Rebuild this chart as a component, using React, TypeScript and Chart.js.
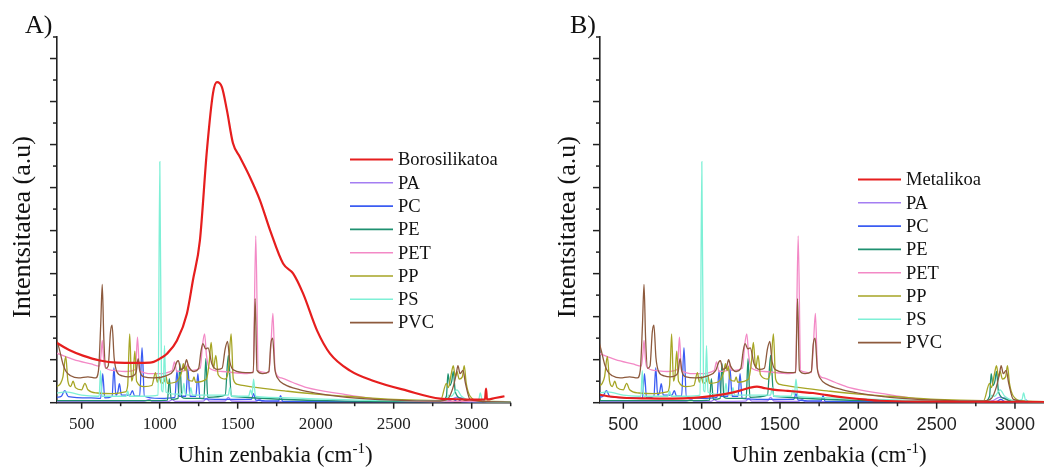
import React, { useEffect, useRef } from "react";
import { Chart, registerables } from "chart.js";

Chart.register(...registerables);

type Pt = [number, number];

// ---------- DATA (wavenumber cm^-1, intensity a.u.) ----------
const X_MIN_A = 342;
const X_MAX_A = 3250;
const X_MIN_B = 351;
const X_MAX_B = 3200;
const Y_MAX = 17;
const X_TICK_LABELS = [500, 1000, 1500, 2000, 2500, 3000];

const BORO: Pt[] = [
  [342, 2.78], [348, 2.75], [420, 2.45], [508, 2.19], [617, 1.96], [726, 1.86], [850, 1.85],
  [938, 1.86], [1002, 2.05], [1047, 2.28], [1111, 2.89], [1175, 4.15], [1213, 5.68],
  [1258, 7.55], [1303, 11.74], [1342, 14.39], [1367, 14.9], [1399, 14.67], [1431, 13.6],
  [1470, 12.06], [1515, 11.41], [1579, 10.48], [1643, 9.41], [1708, 8.01], [1791, 6.47],
  [1855, 6.01], [1919, 5.08], [2009, 3.35], [2092, 2.28], [2220, 1.49], [2367, 1.02],
  [2585, 0.56], [2797, 0.19], [2900, 0.16], [3000, 0.14], [3085, 0.15], [3092, 0.65],
  [3098, 0.15], [3150, 0.22], [3210, 0.3],
];

const METAL: Pt[] = [
  [351, 0.37], [400, 0.3], [500, 0.23], [650, 0.2], [815, 0.19], [950, 0.22], [1034, 0.28],
  [1162, 0.42], [1245, 0.56], [1309, 0.7], [1353, 0.75], [1400, 0.68], [1456, 0.61],
  [1550, 0.55], [1628, 0.5], [1711, 0.45], [1800, 0.35], [1928, 0.23], [2050, 0.14],
  [2139, 0.09], [2400, 0.05], [2800, 0.04], [3200, 0.03],
];

const PA: Pt[] = [
  [342, 0.05], [900, 0.06], [935, 0.15], [950, 0.06], [1060, 0.06], [1080, 0.14], [1100, 0.06],
  [1280, 0.07], [1300, 0.2], [1320, 0.07], [1420, 0.08], [1440, 0.25], [1460, 0.08],
  [1620, 0.06], [1640, 0.15], [1660, 0.05], [2800, 0.05], [2860, 0.1], [2900, 0.25],
  [2935, 0.22], [2970, 0.06], [3050, 0.04], [3250, 0.03],
];

const PC: Pt[] = [
  [342, 0.25], [370, 0.3], [392, 0.56], [415, 0.28], [560, 0.22], [622, 0.2], [635, 1.35],
  [648, 0.22], [695, 0.3], [707, 1.63], [719, 0.35], [732, 0.5], [742, 0.88], [755, 0.35],
  [810, 0.35], [825, 0.56], [840, 0.3], [872, 0.3], [887, 2.56], [902, 0.3], [1000, 0.2],
  [1098, 0.25], [1111, 1.49], [1124, 0.3], [1168, 0.3], [1181, 1.58], [1194, 0.3],
  [1232, 0.3], [1245, 1.35], [1258, 0.2], [1400, 0.15], [1588, 0.15], [1602, 0.42],
  [1616, 0.12], [1762, 0.08], [1775, 0.33], [1788, 0.06], [2880, 0.05], [2910, 0.15],
  [2940, 0.04], [3060, 0.03], [3072, 0.12], [3085, 0.03], [3250, 0.03],
];

const PE: Pt[] = [
  [342, 0.1], [1000, 0.1], [1050, 0.12], [1062, 1.12], [1074, 0.15], [1118, 0.2], [1130, 1.82],
  [1142, 0.25], [1170, 0.2], [1284, 0.2], [1296, 2.05], [1308, 0.25], [1420, 0.35],
  [1440, 2.2], [1460, 0.3], [2800, 0.05], [2838, 0.3], [2848, 1.35], [2860, 0.8],
  [2872, 1.0], [2882, 1.45], [2895, 0.5], [2930, 0.2], [3000, 0.05], [3250, 0.03],
];

const PET: Pt[] = [
  [342, 2.3], [450, 2.0], [560, 1.8], [615, 1.7], [625, 2.3], [632, 2.9], [640, 2.1],
  [650, 1.65], [700, 1.5], [780, 1.45], [845, 1.55], [858, 3.05], [871, 1.5], [950, 1.35],
  [990, 1.35], [1080, 1.5], [1095, 1.9], [1110, 1.45], [1170, 1.5], [1180, 1.8],
  [1190, 1.5], [1260, 1.6], [1275, 2.7], [1288, 3.2], [1300, 2.2], [1320, 1.6],
  [1400, 1.45], [1560, 1.35], [1600, 1.45], [1616, 7.75], [1632, 1.5], [1700, 1.4],
  [1712, 2.5], [1726, 4.15], [1740, 1.5], [1780, 1.15], [1850, 0.95], [1944, 0.7],
  [2156, 0.42], [2367, 0.19], [2585, 0.09], [3000, 0.05], [3250, 0.05],
];

const PP: Pt[] = [
  [342, 0.75], [365, 0.9], [380, 1.2], [398, 2.15], [412, 1.0], [430, 0.75], [445, 1.0],
  [460, 0.7], [500, 0.6], [521, 0.9], [540, 0.6], [600, 0.45], [700, 0.42], [780, 0.5],
  [795, 0.8], [808, 3.2], [820, 1.0], [830, 1.3], [841, 2.4], [852, 1.0], [900, 0.75],
  [950, 0.8], [973, 1.4], [985, 0.95], [998, 1.2], [1010, 0.9], [1030, 1.0], [1040, 1.25],
  [1050, 0.9], [1100, 0.95], [1140, 1.4], [1152, 1.82], [1162, 1.5], [1170, 1.7],
  [1180, 1.1], [1210, 1.0], [1220, 1.2], [1230, 0.95], [1300, 1.1], [1318, 1.9],
  [1330, 2.8], [1345, 1.6], [1360, 2.2], [1375, 1.3], [1420, 1.1], [1440, 1.5],
  [1458, 3.2], [1472, 1.1], [1500, 0.85], [1600, 0.72], [1800, 0.55], [2000, 0.4],
  [2200, 0.3], [2500, 0.15], [2800, 0.1], [2838, 0.9], [2850, 0.7], [2868, 1.3],
  [2882, 1.72], [2895, 1.2], [2905, 1.45], [2920, 1.1], [2940, 1.2], [2952, 1.72],
  [2965, 0.9], [2990, 0.3], [3050, 0.08], [3250, 0.05],
];

const PS: Pt[] = [
  [342, 0.45], [400, 0.5], [500, 0.35], [600, 0.3], [612, 0.3], [621, 1.49], [630, 0.3],
  [700, 0.3], [785, 0.3], [795, 0.55], [805, 0.3], [900, 0.3], [990, 0.35], [1001, 11.2],
  [1012, 0.6], [1022, 0.5], [1031, 2.65], [1040, 0.5], [1100, 0.4], [1145, 0.4],
  [1155, 0.9], [1165, 0.4], [1190, 0.35], [1200, 0.7], [1210, 0.35], [1300, 0.35],
  [1440, 0.35], [1450, 0.7], [1460, 0.3], [1570, 0.3], [1583, 0.6], [1592, 0.35],
  [1602, 1.1], [1614, 0.3], [1700, 0.25], [2000, 0.18], [2500, 0.1], [2840, 0.1],
  [2852, 0.35], [2870, 0.3], [2905, 0.6], [2935, 0.3], [3000, 0.1], [3045, 0.15],
  [3055, 0.45], [3068, 0.1], [3100, 0.05], [3250, 0.04],
];

const PVC: Pt[] = [
  [342, 2.9], [360, 2.4], [380, 1.8], [400, 1.45], [430, 1.25], [480, 1.15], [540, 1.2],
  [590, 1.15], [608, 1.5], [622, 3.6], [632, 5.5], [642, 3.0], [655, 1.6], [670, 1.7],
  [685, 3.3], [695, 3.6], [708, 2.1], [725, 1.45], [760, 1.25], [800, 1.2], [840, 1.3],
  [850, 1.45], [862, 2.05], [874, 1.45], [900, 1.2], [960, 1.15], [1040, 1.25], [1090, 1.5],
  [1110, 1.9], [1120, 1.95], [1135, 1.55], [1160, 1.7], [1172, 2.0], [1185, 1.7],
  [1220, 1.45], [1250, 1.6], [1265, 2.4], [1277, 2.75], [1295, 2.5], [1310, 2.55],
  [1335, 1.8], [1370, 1.55], [1400, 1.6], [1420, 2.5], [1435, 2.85], [1450, 1.9],
  [1480, 1.5], [1550, 1.4], [1600, 1.4], [1612, 4.84], [1624, 1.5], [1660, 1.35],
  [1700, 1.45], [1712, 2.7], [1724, 3.0], [1738, 1.6], [1760, 1.1], [1800, 0.85],
  [1900, 0.6], [2000, 0.45], [2200, 0.25], [2500, 0.12], [2800, 0.08], [2850, 0.2],
  [2880, 0.7], [2900, 1.3], [2912, 1.72], [2925, 1.35], [2944, 1.5], [2960, 0.9],
  [2990, 0.15], [3100, 0.05], [3250, 0.03],
];

const POLYMER_NAMES = ["PA", "PC", "PE", "PET", "PP", "PS", "PVC"];
const POLYMER_DATA: Pt[][] = [PA, PC, PE, PET, PP, PS, PVC];

// ---------- STYLE ----------
const RED = "#e61e1e";
const POLYMER_COLORS = ["#a47ef2", "#3b5cf2", "#1e9070", "#f389c6", "#a6a524", "#7ef0d6", "#8d5a3d"];
const SERIF = '"Liberation Serif", "Times New Roman", serif';
const SANS = '"Liberation Sans", Arial, sans-serif';
const AXIS_COLOR = "#222";
const PLOT_TOP = 37;
const PLOT_BOTTOM = 402;
const TICK_PAD = 11.3;

type PanelCfg = {
  label: string;
  redName: string;
  red: Pt[];
  xMin: number;
  xMax: number;
  left: number;
  width: number;
  padLeft: number;
  padRight: number;
  tickFont: string;
  tickSize: number;
  legendX: number;
  legendY: number;
  panelLabelX: number;
  xTitleCx: number;
  yTitleBx: number;
};

const PANELS: PanelCfg[] = [
  {
    label: "A)", redName: "Borosilikatoa", red: BORO, xMin: X_MIN_A, xMax: X_MAX_A,
    left: 0, width: 530, padLeft: 57, padRight: 19.3, tickFont: SERIF, tickSize: 17,
    legendX: 350, legendY: 159.5, panelLabelX: 25, xTitleCx: 275, yTitleBx: 30,
  },
  {
    label: "B)", redName: "Metalikoa", red: METAL, xMin: X_MIN_B, xMax: X_MAX_B,
    left: 540, width: 510, padLeft: 60, padRight: 3.7, tickFont: SANS, tickSize: 18,
    legendX: 318, legendY: 179.5, panelLabelX: 30, xTitleCx: 289, yTitleBx: 35,
  },
];

const decorPlugin = {
  id: "decor",
  afterDraw(chart: any) {
    const cfg: PanelCfg = chart.options.plugins.decor.cfg;
    const names: string[] = chart.options.plugins.decor.names;
    const colors: string[] = chart.options.plugins.decor.colors;
    const ctx: CanvasRenderingContext2D = chart.ctx;
    const xs = chart.scales.x;
    const ys = chart.scales.y;
    const area = chart.chartArea;
    ctx.save();
    ctx.strokeStyle = AXIS_COLOR;
    ctx.lineWidth = 1.5;
    for (let v = Math.ceil(xs.min / 250) * 250; v <= xs.max + 0.5; v += 250) {
      const px = xs.getPixelForValue(v);
      const len = v % 500 === 0 ? 6 : 3.5;
      ctx.beginPath();
      ctx.moveTo(px, area.bottom);
      ctx.lineTo(px, area.bottom + len);
      ctx.stroke();
    }
    for (let v = 0; v <= Y_MAX; v++) {
      const py = ys.getPixelForValue(v);
      const len = v % 2 === 0 ? 7 : 4;
      ctx.beginPath();
      ctx.moveTo(area.left, py);
      ctx.lineTo(area.left - len, py);
      ctx.stroke();
    }
    ctx.font = `18.5px ${SERIF}`;
    ctx.textBaseline = "middle";
    ctx.textAlign = "left";
    names.forEach((n, i) => {
      const y = cfg.legendY + i * 23.3;
      ctx.strokeStyle = colors[i];
      ctx.lineWidth = i === 0 ? 2 : 1.6;
      ctx.beginPath();
      ctx.moveTo(cfg.legendX, y);
      ctx.lineTo(cfg.legendX + 43, y);
      ctx.stroke();
      ctx.fillStyle = "#111";
      ctx.fillText(n, cfg.legendX + 48, y + 1);
    });
    ctx.fillStyle = "#111";
    ctx.textBaseline = "alphabetic";
    ctx.font = `26px ${SERIF}`;
    ctx.fillText(cfg.label, cfg.panelLabelX, 33);
    const main = "Uhin zenbakia (cm";
    const sup = "-1";
    const end = ")";
    ctx.font = `23px ${SERIF}`;
    const w1 = ctx.measureText(main).width;
    const w3 = ctx.measureText(end).width;
    ctx.font = `15px ${SERIF}`;
    const w2 = ctx.measureText(sup).width;
    const x0 = cfg.xTitleCx - (w1 + w2 + w3) / 2;
    const by = 462;
    ctx.font = `23px ${SERIF}`;
    ctx.fillText(main, x0, by);
    ctx.font = `15px ${SERIF}`;
    ctx.fillText(sup, x0 + w1, by - 9);
    ctx.font = `23px ${SERIF}`;
    ctx.fillText(end, x0 + w1 + w2, by);
    ctx.save();
    ctx.translate(cfg.yTitleBx, 227);
    ctx.rotate(-Math.PI / 2);
    ctx.textAlign = "center";
    ctx.font = `26px ${SERIF}`;
    ctx.fillText("Intentsitatea (a.u)", 0, 0);
    ctx.restore();
    ctx.restore();
  },
};

function Panel({ cfg }: { cfg: PanelCfg }) {
  const ref = useRef<HTMLCanvasElement | null>(null);
  useEffect(() => {
    if (!ref.current) return;
    const names = [cfg.redName, ...POLYMER_NAMES];
    const colors = [RED, ...POLYMER_COLORS];
    const series = [cfg.red, ...POLYMER_DATA];
    const n = series.length;
    const datasets = series.map((s, i) => ({
      label: names[i],
      data: s.map(([x, y]) => ({ x, y })),
      borderColor: colors[i],
      backgroundColor: colors[i],
      borderWidth: i === 0 ? 2.2 : 1.3,
      pointRadius: 0,
      fill: false,
      cubicInterpolationMode: "monotone" as const,
      order: i === 0 ? 0 : n - i,
    }));
    const chart = new Chart(ref.current, {
      type: "line",
      data: { datasets },
      plugins: [decorPlugin],
      options: {
        animation: false,
        responsive: false,
        events: [],
        layout: {
          padding: {
            left: cfg.padLeft,
            right: cfg.padRight,
            top: PLOT_TOP,
            bottom: 471 - PLOT_BOTTOM - cfg.tickSize * 1.2 - TICK_PAD - 12,
          },
        },
        plugins: {
          legend: { display: false },
          tooltip: { enabled: false },
          decor: { cfg, names, colors },
        } as any,
        scales: {
          x: {
            type: "linear",
            min: cfg.xMin,
            max: cfg.xMax,
            afterBuildTicks: (scale: any) => {
              scale.ticks = X_TICK_LABELS.map((v) => ({ value: v }));
            },
            ticks: {
              font: { family: cfg.tickFont, size: cfg.tickSize },
              color: "#222",
              padding: TICK_PAD,
              maxRotation: 0,
              autoSkip: false,
              callback: (v: any) => String(v),
            },
            grid: { display: false, drawTicks: false },
            border: { display: true, color: AXIS_COLOR, width: 1.6 },
          },
          y: {
            type: "linear",
            min: 0,
            max: Y_MAX,
            ticks: { display: false },
            grid: { display: false, drawTicks: false },
            border: { display: true, color: AXIS_COLOR, width: 1.6 },
          },
        },
      } as any,
    });
    return () => chart.destroy();
  }, [cfg]);
  return (
    <canvas
      ref={ref}
      width={cfg.width}
      height={471}
      style={{ position: "absolute", left: cfg.left, top: 0, width: cfg.width, height: 471 }}
    />
  );
}

export default function App() {
  return (
    <div
      style={{
        position: "absolute",
        left: 0,
        top: 0,
        width: 1044,
        height: 471,
        overflow: "hidden",
        background: "#fff",
      }}
    >
      {PANELS.map((p) => (
        <Panel key={p.label} cfg={p} />
      ))}
    </div>
  );
}
